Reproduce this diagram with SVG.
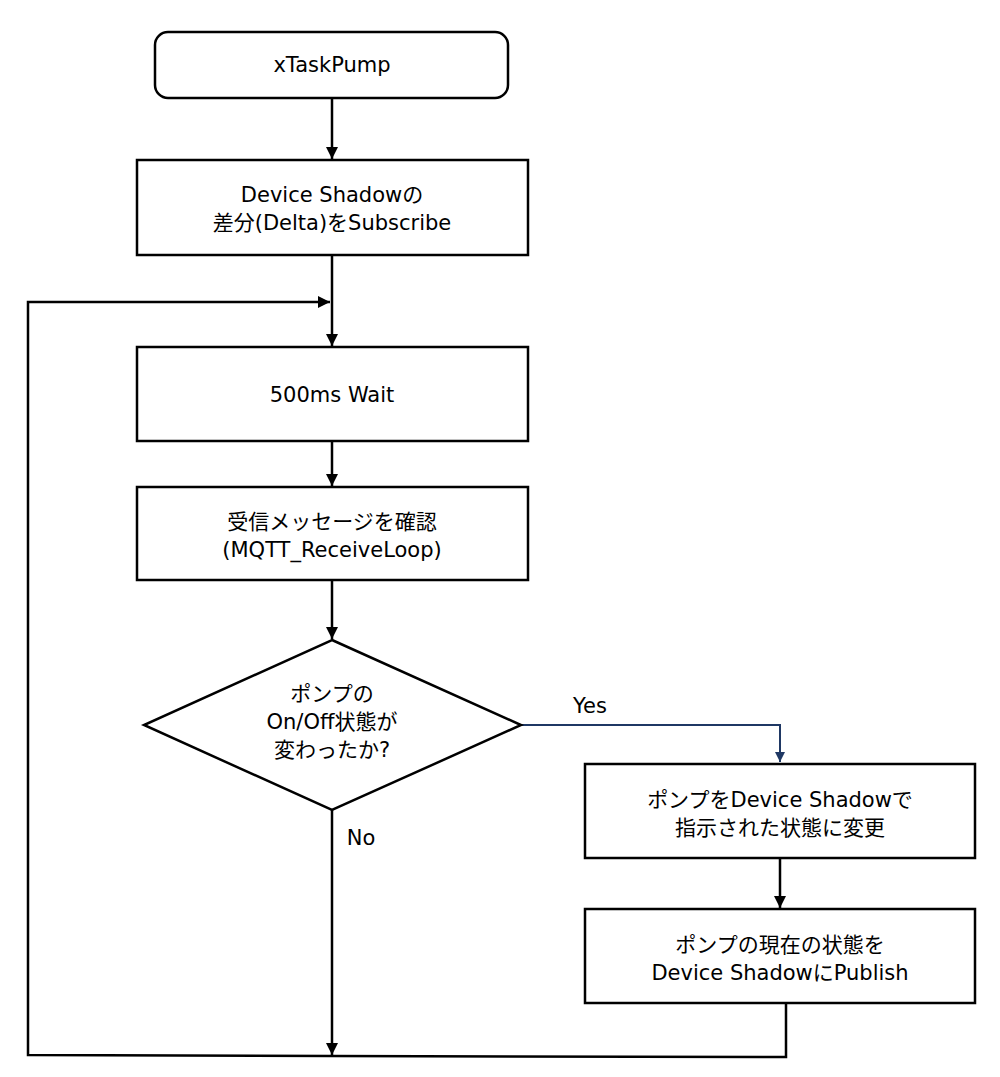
<svg xmlns="http://www.w3.org/2000/svg" width="1000" height="1077" viewBox="0 0 1000 1077">
<style>
.n{fill:#fff;stroke:#000;stroke-width:2.5}
.t{font-family:"DejaVu Sans","Noto Sans CJK JP",sans-serif;font-size:21px;fill:#000;text-anchor:middle}
.c{fill:none;stroke:#000;stroke-width:2.5}
.y{fill:none;stroke:#1f3864;stroke-width:2}
</style>
<defs>
<marker id="a" viewBox="0 0 10 10" refX="10" refY="5" markerWidth="5" markerHeight="5" orient="auto" markerUnits="strokeWidth"><path d="M0,0 L10,5 L0,10 z" fill="#000"/></marker>
<marker id="b" viewBox="0 0 10 10" refX="10" refY="5" markerWidth="5" markerHeight="6" orient="auto" markerUnits="strokeWidth"><path d="M0,0 L10,5 L0,10 z" fill="#1f3864"/></marker>
</defs>
<g id="connectors">
<line class="c" x1="332" y1="98" x2="332" y2="159" marker-end="url(#a)"/>
<line class="c" x1="332" y1="255" x2="332" y2="346" marker-end="url(#a)"/>
<line class="c" x1="332" y1="441" x2="332" y2="486" marker-end="url(#a)"/>
<line class="c" x1="332" y1="580" x2="332" y2="639" marker-end="url(#a)"/>
<polyline class="y" points="521,725 780,725 780,762" marker-end="url(#b)"/>
<line class="c" x1="780" y1="858" x2="780" y2="908" marker-end="url(#a)"/>
<line class="c" x1="332" y1="810" x2="332" y2="1055" marker-end="url(#a)"/>
<polyline class="c" points="786,1003 786,1057 332,1056 28,1055 28,302 330,302" marker-end="url(#a)"/>
<text class="t" x="590" y="713">Yes</text>
<text class="t" x="361" y="845">No</text>
</g>
<g id="start"><rect class="n" x="155" y="32" width="353" height="66" rx="13"/><text class="t" x="332" y="72">xTaskPump</text></g>
<g id="subscribe"><rect class="n" x="137" y="160" width="391" height="95"/><text class="t" x="332" y="202">Device Shadowの</text><text class="t" x="332" y="230">差分(Delta)をSubscribe</text></g>
<g id="wait"><rect class="n" x="137" y="347" width="391" height="94"/><text class="t" x="332" y="402">500ms Wait</text></g>
<g id="receive"><rect class="n" x="137" y="487" width="391" height="93"/><text class="t" x="332" y="529">受信メッセージを確認</text><text class="t" x="332" y="557">(MQTT_ReceiveLoop)</text></g>
<g id="decision"><polygon class="n" points="332,640 521,725 332,810 144,725"/><text class="t" x="332" y="701">ポンプの</text><text class="t" x="332" y="729">On/Off状態が</text><text class="t" x="332" y="757">変わったか?</text></g>
<g id="change"><rect class="n" x="585" y="764" width="390" height="94"/><text class="t" x="780" y="807">ポンプをDevice Shadowで</text><text class="t" x="780" y="835">指示された状態に変更</text></g>
<g id="publish"><rect class="n" x="585" y="909" width="390" height="94"/><text class="t" x="780" y="952">ポンプの現在の状態を</text><text class="t" x="780" y="980">Device ShadowにPublish</text></g>
</svg>
